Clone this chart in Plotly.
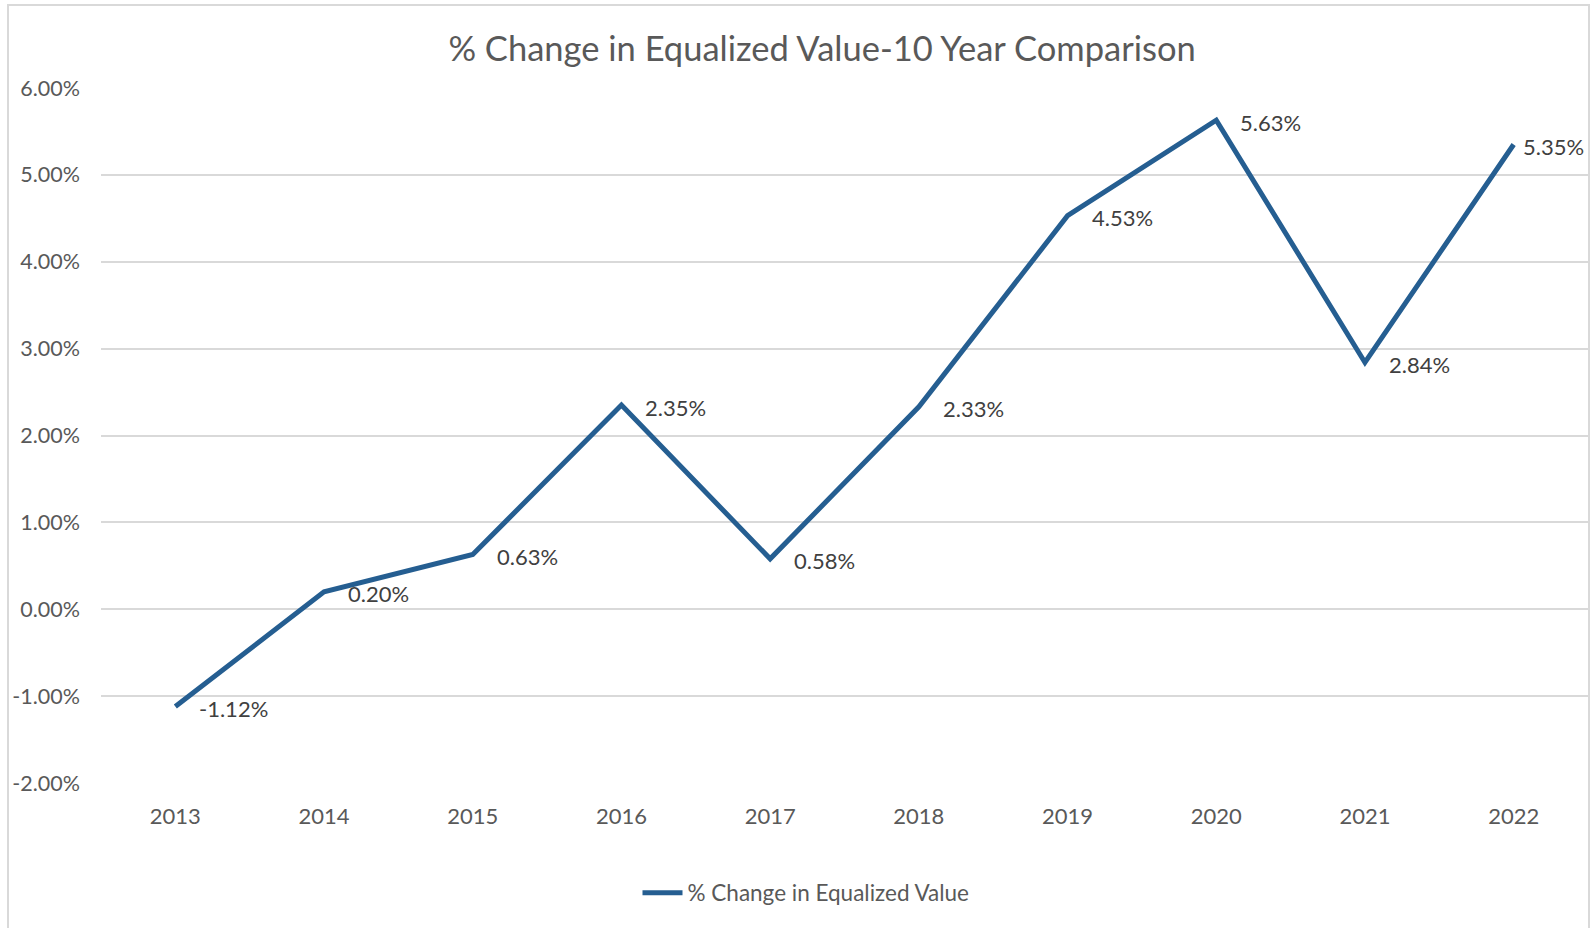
import plotly.graph_objects as go

years = ["2013", "2014", "2015", "2016", "2017", "2018", "2019", "2020", "2021", "2022"]
pct_change = [-1.12, 0.20, 0.63, 2.35, 0.58, 2.33, 4.53, 5.63, 2.84, 5.35]
y_ticks = [-2, -1, 0, 1, 2, 3, 4, 5, 6]

line_color = "#255E91"
text_color = "#595959"
font_family = "Lato, 'Open Sans', sans-serif"

values = [v / 100 for v in pct_change]
x_pos = list(range(len(years)))

fig = go.Figure()
fig.add_trace(go.Scatter(
    x=x_pos,
    y=values,
    mode="lines",
    name="% Change in Equalized Value",
    line=dict(color=line_color, width=5),
    hoverinfo="skip",
))

# data labels to the right of each point; the last one is pulled in to stay inside the frame
for i, (xi, v) in enumerate(zip(x_pos, pct_change)):
    last = i == len(x_pos) - 1
    fig.add_annotation(
        x=xi, y=v / 100, xref="x", yref="y",
        text=f"{v:.2f}%", showarrow=False,
        xanchor="left", yanchor="middle",
        xshift=7 if last else 22, yshift=-2,
        font=dict(family=font_family, size=22, color="#404040"),
    )

fig.update_layout(
    width=1591,
    height=928,
    paper_bgcolor="white",
    plot_bgcolor="white",
    margin=dict(l=101, r=3, t=88, b=145),
    title=dict(
        text="% Change in Equalized Value-10 Year Comparison",
        x=0.5167, xanchor="center",
        y=1 - 49 / 928, yanchor="middle",
        font=dict(family=font_family, size=34.5, color=text_color),
    ),
    showlegend=True,
    legend=dict(
        orientation="h",
        x=(806 - 101) / 1487, xanchor="center",
        y=-(893 - 783) / 695, yanchor="middle",
        font=dict(family=font_family, size=22.5, color=text_color),
        itemwidth=40,
        bgcolor="rgba(0,0,0,0)",
    ),
    xaxis=dict(
        range=[-0.5, 9.5],
        tickmode="array",
        tickvals=x_pos,
        ticktext=years,
        showgrid=False,
        zeroline=False,
        showline=False,
        ticks="",
        ticklabelstandoff=18,
        tickfont=dict(family=font_family, size=22, color=text_color),
    ),
    yaxis=dict(
        range=[-0.02, 0.06],
        tickmode="array",
        tickvals=[t / 100 for t in y_ticks],
        ticktext=[f"{t:.2f}%" for t in y_ticks],
        showgrid=True,
        gridcolor="#D9D9D9",
        gridwidth=2,
        zeroline=False,
        showline=False,
        ticks="",
        ticklabelstandoff=20,
        tickfont=dict(family=font_family, size=21.5, color=text_color),
    ),
)

# chart-area border
fig.add_shape(
    type="rect", xref="paper", yref="paper",
    x0=-(101 - 8) / 1487, x1=1 + 1 / 1487,
    y0=-(928 - 783 + 20) / 695, y1=1 + (88 - 5) / 695,
    line=dict(color="#D9D9D9", width=2),
    fillcolor="rgba(0,0,0,0)",
    layer="below",
)

fig.write_html("out.html")
